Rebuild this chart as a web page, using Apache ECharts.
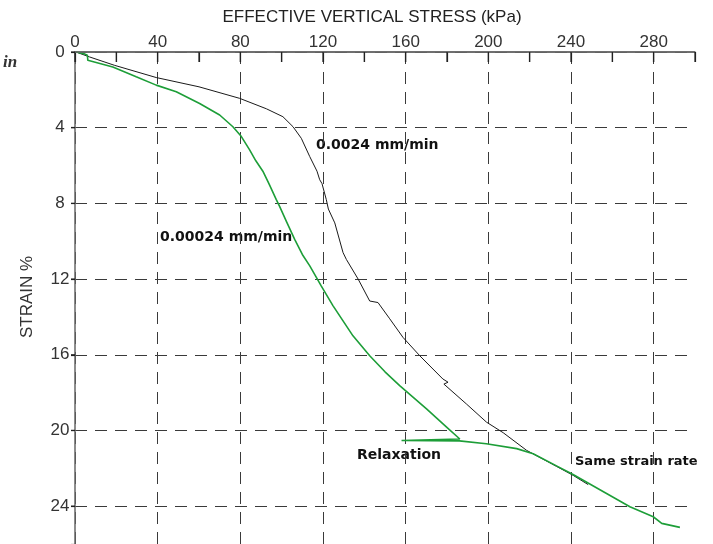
<!DOCTYPE html>
<html><head><meta charset="utf-8">
<script src="https://cdn.jsdelivr.net/npm/echarts@6/dist/echarts.min.js"></script>
<style>html,body{margin:0;padding:0;background:#fff}#c{width:713px;height:544px}</style>
</head><body><div id="c"></div>
<script>
// 0.0024 mm/min test (black)
const fastStress = [0.5, 7, 19, 39.3, 60, 79.7, 92.6, 100.6, 105.5, 109.5, 113.6, 117.1, 118.4, 119.5, 121.6, 122.6, 125.7, 129.7, 131.3, 137, 142.6, 146.6, 152.3, 158.7, 166.8, 178, 180.5, 178.5, 189.4, 199.1, 207.2, 218.5, 233, 241, 248.3];
const fastStrain = [0, 0.26, 0.7, 1.35, 1.84, 2.45, 3.0, 3.42, 3.95, 4.56, 5.53, 6.3, 6.75, 6.95, 7.8, 8.3, 9.03, 10.6, 10.96, 12.0, 13.16, 13.24, 14.1, 15.08, 16.05, 17.28, 17.45, 17.55, 18.6, 19.56, 20.12, 21.05, 21.9, 22.37, 22.86];
// 0.00024 mm/min test with relaxation (green)
const slowStress = [0.6, 4.6, 6.0, 6.2, 7, 18.3, 29.6, 39.3, 49, 60.3, 70, 76.4, 80.5, 84.5, 87.5, 90.9, 94, 97.4, 99, 102.5, 106.3, 110, 113.6, 119.2, 124.8, 134.5, 142.6, 150, 157.1, 170.1, 179.8, 186.2, 158, 186, 199, 213.7, 221.7, 233, 241, 257.2, 268.5, 279.8, 283.9, 292.7];
const slowStrain = [0, 0.1, 0.17, 0.44, 0.53, 0.79, 1.31, 1.75, 2.1, 2.72, 3.33, 3.95, 4.47, 5.17, 5.75, 6.3, 7.0, 7.8, 8.16, 9.0, 9.9, 10.7, 11.3, 12.37, 13.4, 15.0, 16.05, 16.9, 17.63, 18.86, 19.82, 20.45, 20.53, 20.55, 20.7, 20.96, 21.23, 21.87, 22.33, 23.33, 24.03, 24.56, 24.91, 25.12];
const xTickLabels = [0, 40, 80, 120, 160, 200, 240, 280];
const xTickMarks = [0, 20, 40, 60, 80, 100, 120, 140, 160, 180, 200, 220, 240, 260, 280, 300];
const yTickLabels = [0, 4, 8, 12, 16, 20, 24];

const FONT = 'Liberation Sans, Arial, sans-serif';
const GRIDC = '#3a3a3a';
const chart = echarts.init(document.getElementById('c'));
chart.setOption({
  animation: false,
  grid: { left: 75, right: 18, top: 52, bottom: 0 },
  xAxis: {
    type: 'value', position: 'top', min: 0, max: 300, interval: 20,
    axisLine: { show: true, onZero: false, lineStyle: { color: '#666', width: 1.5 } },
    axisTick: { show: true, inside: true, length: 10, lineStyle: { color: '#222', width: 1.2 } },
    axisLabel: { margin: 1, fontSize: 17, color: '#333', fontFamily: FONT,
      formatter: v => xTickLabels.includes(v) ? String(v) : '' },
    splitLine: { show: true, lineStyle: { type: [12, 8], color: [GRIDC, 'rgba(0,0,0,0)'], width: 1 } }
  },
  yAxis: {
    type: 'value', inverse: true, min: 0, max: 26, interval: 4,
    axisLine: { show: true, onZero: false, lineStyle: { color: '#666', width: 1.5 } },
    axisTick: { show: true, length: 4, lineStyle: { color: '#222', width: 1.2 } },
    axisLabel: { margin: 15, align: 'center', fontSize: 17, color: '#333', fontFamily: FONT,
      formatter: v => yTickLabels.includes(v) ? String(v) : '' },
    splitLine: { show: true, lineStyle: { type: [12, 8], color: [GRIDC, GRIDC, GRIDC, GRIDC, GRIDC, GRIDC, GRIDC, 'rgba(0,0,0,0)'], width: 1 } }
  },
  series: [
    {
      type: 'line', showSymbol: false, symbol: 'none',
      data: fastStress.map((x, i) => [x, fastStrain[i]]),
      lineStyle: { color: '#1a1a1a', width: 1 }, z: 3
    },
    {
      type: 'line', showSymbol: false, symbol: 'none',
      data: slowStress.map((x, i) => [x, slowStrain[i]]),
      lineStyle: { color: '#1d9e38', width: 1.6 }, z: 4
    },
    {
      // top axis line and its inward tick marks, positioned through the axis scales
      type: 'custom', silent: true, z: 5,
      data: xTickMarks.map(v => [v, 0]),
      renderItem: (params, api) => {
        const p = api.coord([api.value(0), 0]);
        const children = [{ type: 'line', shape: { x1: p[0], y1: p[1], x2: p[0], y2: p[1] + 10 }, style: { stroke: '#222', lineWidth: 1.2 } }];
        if (params.dataIndex === 0) {
          const e = api.coord([xTickMarks[xTickMarks.length - 1], 0]);
          children.push({ type: 'line', shape: { x1: p[0], y1: p[1], x2: e[0], y2: e[1] }, style: { stroke: '#666', lineWidth: 1.5 } });
        }
        return { type: 'group', children };
      }
    },
    {
      // outward tick marks on the strain axis
      type: 'custom', silent: true, z: 5,
      data: yTickLabels.map(v => [0, v]),
      renderItem: (params, api) => {
        const p = api.coord([0, api.value(1)]);
        return { type: 'line', shape: { x1: p[0] - 4, y1: p[1], x2: p[0], y2: p[1] }, style: { stroke: '#222', lineWidth: 1.2 } };
      }
    }
  ],
  graphic: [
    { type: 'text', x: 372, y: 17, style: { text: 'EFFECTIVE VERTICAL STRESS (kPa)', font: '17px ' + FONT, fill: '#222', align: 'center', verticalAlign: 'middle' } },
    { type: 'text', x: 27, y: 297, rotation: Math.PI / 2, style: { text: 'STRAIN %', font: '17px ' + FONT, fill: '#333', align: 'center', verticalAlign: 'middle' } },
    { type: 'text', x: 3, y: 63, style: { text: 'in', font: 'italic bold 17px "Liberation Serif", serif', fill: '#333', align: 'left', verticalAlign: 'middle' } },
    { type: 'text', x: 316, y: 145, style: { text: '0.0024 mm/min', font: 'bold 14px "DejaVu Sans", sans-serif', fill: '#111', align: 'left', verticalAlign: 'middle' } },
    { type: 'text', x: 160, y: 237, style: { text: '0.00024 mm/min', font: 'bold 14px "DejaVu Sans", sans-serif', fill: '#111', align: 'left', verticalAlign: 'middle' } },
    { type: 'text', x: 357, y: 455, style: { text: 'Relaxation', font: 'bold 14px "DejaVu Sans", sans-serif', fill: '#111', align: 'left', verticalAlign: 'middle' } },
    { type: 'text', x: 575, y: 462, style: { text: 'Same strain rate', font: 'bold 13px "DejaVu Sans", sans-serif', fill: '#111', align: 'left', verticalAlign: 'middle' } }
  ]
});
</script>
</body></html>
